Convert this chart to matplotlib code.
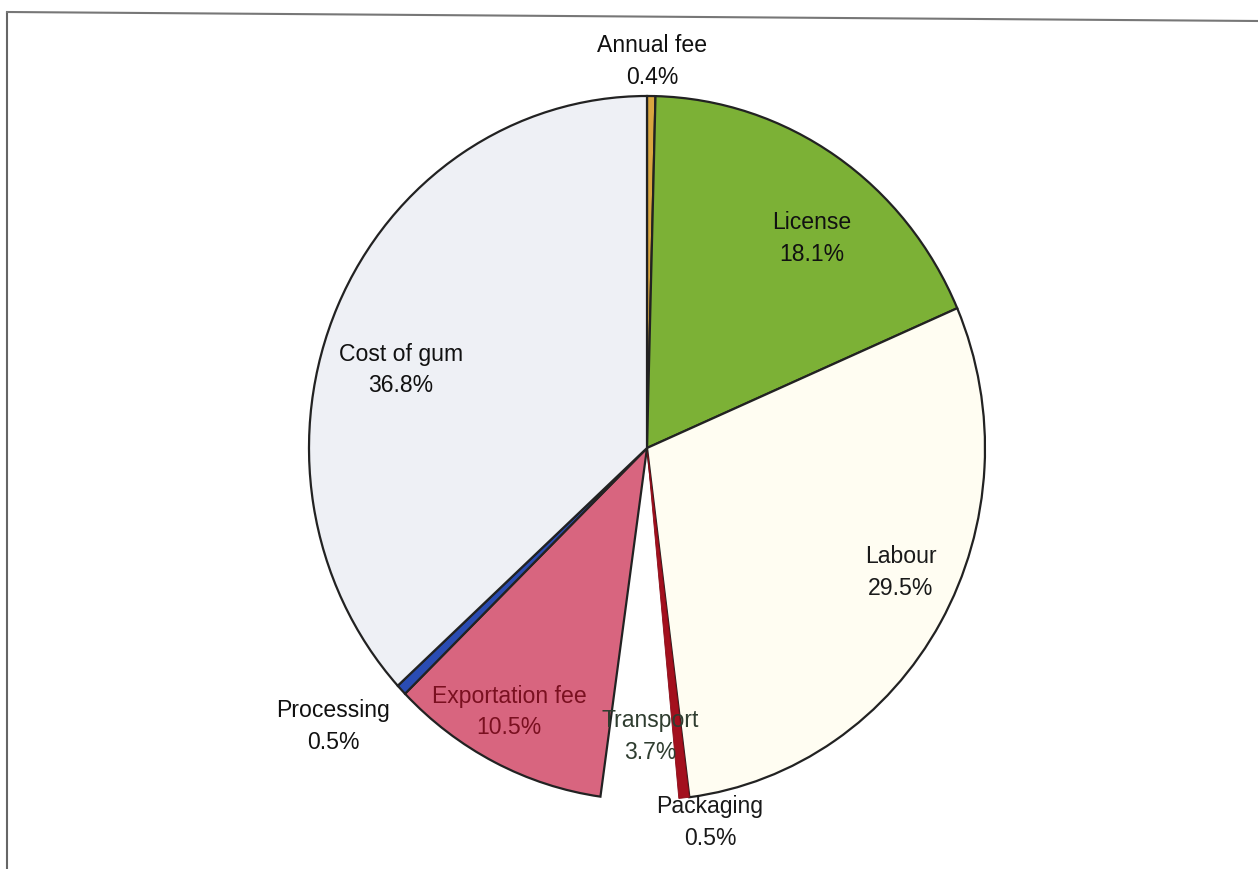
import matplotlib
matplotlib.use("Agg")
import matplotlib.pyplot as plt
from matplotlib.lines import Line2D

W, H = 1258, 870

# dane
labels = ['Annual fee', 'License', 'Labour', 'Packaging', 'Transport',
          'Exportation fee', 'Processing', 'Cost of gum']
shares = [0.4, 18.1, 29.5, 0.5, 3.7, 10.5, 0.5, 36.8]

colors = ['#d9a640', '#7cb136', '#fffdf2', '#a3101e', '#ffffff',
          '#d8657f', '#2a4cb3', '#eef0f5']
edge_colors = ['#222222', '#222222', '#222222', '#8a0c18', 'none',
               '#222222', '#222222', '#222222']
text_colors = ['#111111', '#111111', '#1a1a1a', '#1a1a1a', '#2f3d30',
               '#7a1020', '#111111', '#111111']
# polozenie etykiet w pikselach (srodek tekstu)
label_px = [(652, 62), (812, 239), (901, 573), (710, 823), (650, 737),
            (509, 712), (333, 727), (401, 370)]

plt.rcParams['font.family'] = ['Liberation Sans', 'DejaVu Sans']

fig = plt.figure(figsize=(W / 100, H / 100), dpi=100)
fig.patch.set_facecolor('white')

cx, cy, rx, ry = 647, 449, 338, 352
ax = fig.add_axes([(cx - rx) / W, (H - cy - ry) / H, 2 * rx / W, 2 * ry / H])
wedges, _ = ax.pie(shares, colors=colors, startangle=90, counterclock=False,
                   radius=1, center=(0, 0),
                   wedgeprops=dict(linewidth=1.6))
for w, ec in zip(wedges, edge_colors):
    w.set_edgecolor(ec)
wedges[3].set_linewidth(0.6)
wedges[4].set_zorder(0.5)
ax.set_xlim(-1, 1)
ax.set_ylim(-1, 1)
ax.set_aspect('auto')
ax.axis('off')

for lab, val, (x, y), tc in zip(labels, shares, label_px, text_colors):
    fig.text(x / W, 1 - y / H, f"{lab}\n{val:.1f}%", ha='center', va='center',
             fontsize=16.6, color=tc, linespacing=1.5)

# ramka skanu
fig.add_artist(Line2D([7 / W, 7 / W], [0, 1 - 14 / H], color='#666666', lw=1.5))
fig.add_artist(Line2D([7 / W, 1], [1 - 13 / H, 1 - 22 / H], color='#777777', lw=1.5))

fig.savefig('out.png', dpi=100)
